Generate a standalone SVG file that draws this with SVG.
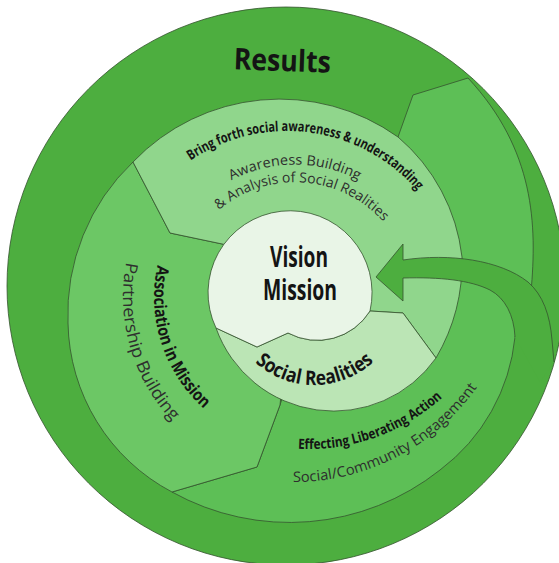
<svg xmlns="http://www.w3.org/2000/svg" width="559" height="563" viewBox="0 0 559 563">
<style>
.edge{stroke:#35532f;stroke-width:0.8;stroke-linejoin:round}
.results{fill:#4dae3f}
.effecting{fill:#5dbf56}
.association{fill:#6cc765}
.awareness{fill:#90d68c}
.social{fill:#bbe5b5}
.vision{fill:#e9f5e7}
.tb{font-family:"Open Sans","Liberation Sans",sans-serif;font-weight:700;fill:#141414}
.tr{font-family:"Open Sans","Liberation Sans",sans-serif;font-weight:400;fill:#2e2e2e}
</style>
<defs>
<path id="p-bring" d="M190.6,160.6 A172,172 0 0 1 427.9,204.3"/>
<path id="p-aw1" d="M231.4,180.4 A135.5,135.5 0 0 1 372.7,189"/>
<path id="p-aw2" d="M219,210 A118,118 0 0 1 391.6,232.3"/>
<path id="p-assoc" d="M157.5,265 A150,150 0 0 0 218,419.9"/>
<path id="p-partner" d="M126.4,262 A181,181 0 0 0 187.7,435.7"/>
<path id="p-eff" d="M298,448.7 A198,198 0 0 0 460.7,378.3"/>
<path id="p-comm" d="M293,482 A224,224 0 0 0 491.8,363.2"/>
<path id="p-sr" d="M255.1,362.4 A88,88 0 0 0 381.4,353.6"/>
</defs>

<g id="results">
<circle class="results edge" cx="286" cy="286" r="279"/>
<text class="tb" x="282" y="71" font-size="30" text-anchor="middle" textLength="97" lengthAdjust="spacingAndGlyphs" transform="rotate(2 282 71)">Results</text>
</g>

<g id="effecting">
<path class="effecting edge" d="M172,492 A242,242 0 0 0 440,470 A190,190 0 0 0 515,337 L531,292 C537,225 535,150 468,78 L413,95 L398,137 L330,250 L280,405 L257,467 Z"/>
<text class="tb" font-size="14"><textPath href="#p-eff" textLength="157" lengthAdjust="spacingAndGlyphs">Effecting Liberating Action</textPath></text>
<text class="tr" font-size="14.5"><textPath href="#p-comm" textLength="215" lengthAdjust="spacingAndGlyphs">Social/Community Engagement</textPath></text>
</g>

<g id="association">
<path class="association edge" d="M172,492 A195,195 0 0 1 68,323 A210,210 0 0 1 133,162 L170,233 L227,245 L291,294 L280,405 L257,467 Z"/>
<text class="tb" font-size="17"><textPath href="#p-assoc" textLength="158" lengthAdjust="spacingAndGlyphs">Association in Mission</textPath></text>
<text class="tr" font-size="17"><textPath href="#p-partner" textLength="172" lengthAdjust="spacingAndGlyphs">Partnership Building</textPath></text>
</g>

<g id="awareness">
<path class="awareness edge" d="M133,162 A203,203 0 0 1 398,137 A185,185 0 0 1 462,257 A190,190 0 0 1 436,358 L403,313 L370,311 L291,294 L227,245 L170,233 Z"/>
<text class="tb" font-size="14"><textPath href="#p-bring" textLength="250" lengthAdjust="spacingAndGlyphs">Bring forth social awareness &amp; understanding</textPath></text>
<text class="tr" font-size="14"><textPath href="#p-aw1" textLength="132" lengthAdjust="spacingAndGlyphs">Awareness Building</textPath></text>
<text class="tr" font-size="14"><textPath href="#p-aw2" textLength="182" lengthAdjust="spacingAndGlyphs">&amp; Analysis of Social Realities</textPath></text>
</g>

<g id="social-realities">
<path class="social edge" d="M216,328 L257,347 L288,333 A62,62 0 0 0 370,311 L403,313 L436,358 A125,125 0 0 1 216,328 Z"/>
<text class="tb" font-size="20"><textPath href="#p-sr" textLength="130" lengthAdjust="spacingAndGlyphs">Social Realities</textPath></text>
</g>

<g id="vision-mission">
<path class="vision edge" d="M216,328 L257,347 L288,333 A62,62 0 0 0 370,311 A82,82 0 1 0 216,328 Z"/>
<text class="tb" x="299" y="267" font-size="28" text-anchor="middle" textLength="58" lengthAdjust="spacingAndGlyphs">Vision</text>
<text class="tb" x="300" y="300" font-size="28" text-anchor="middle" textLength="74" lengthAdjust="spacingAndGlyphs">Mission</text>
</g>

<g id="connectors">
<path class="results" d="M376,277 L403,244 L403,260 C450,253 500,260 528,282 C543,295 550,315 552,340 L554,362 L540,382 L515,337 C514,315 505,298 490,290 C470,280 440,277 403,278 L403,301 Z"/>
<path class="edge" fill="none" d="M554,362 L552,340 C550,315 543,295 528,282 C500,260 450,253 403,260 L403,244 L376,277 L403,301 L403,278 C440,277 470,280 490,290 C505,298 514,315 515,337"/>
</g>
</svg>
